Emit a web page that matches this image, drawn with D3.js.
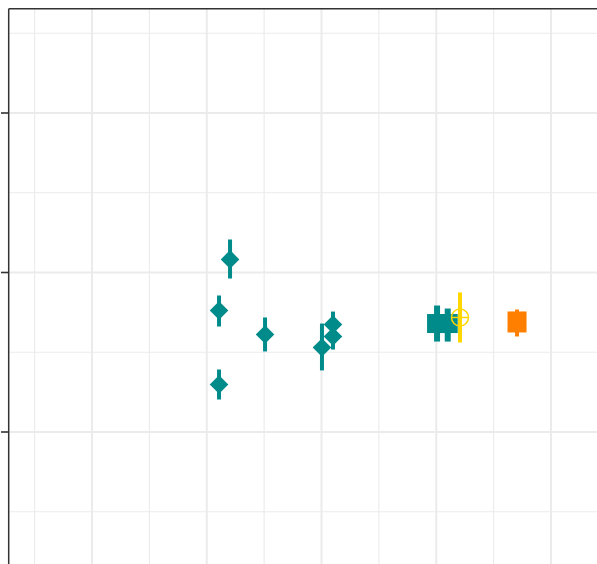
<!DOCTYPE html>
<html><head><meta charset="utf-8">
<script src="https://cdn.jsdelivr.net/npm/d3@7"></script>
<style>html,body{margin:0;padding:0;background:#fff;}svg{display:block;}</style>
</head><body>
<svg id="chart" width="597" height="564"></svg>
<script>
// Estimation data (arbitrary units)
const diamondX   = [2.203, 2.107, 2.107, 2.508, 3.004, 3.100, 3.100];
const diamondY   = [2.082, 1.762, 1.298, 1.611, 1.530, 1.674, 1.599];
const diamondLo  = [1.962, 1.661, 1.204, 1.505, 1.386, 1.586, 1.517];
const diamondHi  = [2.207, 1.856, 1.392, 1.718, 1.680, 1.755, 1.687];

const squareX    = [4.007, 4.100];
const squareY    = [1.680, 1.680];
const squareLo   = [1.567, 1.567];
const squareHi   = [1.793, 1.774];

const pooledX    = [4.207];
const pooledY    = [1.718];
const pooledLo   = [1.561];
const pooledHi   = [1.875];

const otherX     = [4.704];
const otherY     = [1.693];
const otherLo    = [1.599];
const otherHi    = [1.768];

const xMajor = [1, 2, 3, 4, 5];
const xMinor = [0.5, 1.5, 2.5, 3.5, 4.5];
const yMajor = [1, 2, 3];
const yMinor = [0.5, 1.5, 2.5, 3.5];

const W = 597, H = 564;
const padL = 8.7, padT = 8.7;
const svg = d3.select("#chart");

const x = d3.scaleLinear().domain([1, 5]).range([92, 551]);
const y = d3.scaleLinear().domain([1, 3]).range([432, 113]);

const TEAL = "#008B8B", GOLD = "#FFD700", ORANGE = "#FF7F00";

svg.append("defs").append("clipPath").attr("id","clip")
  .append("rect").attr("x", padL).attr("y", padT).attr("width", W).attr("height", H);

const g = svg.append("g").attr("clip-path","url(#clip)");

// grid
g.append("g").selectAll("line").data(xMinor).join("line")
  .attr("x1", d=>x(d)).attr("x2", d=>x(d)).attr("y1", padT).attr("y2", H)
  .attr("stroke","#EBEBEB").attr("stroke-width",1.1);
g.append("g").selectAll("line").data(yMinor).join("line")
  .attr("y1", d=>y(d)).attr("y2", d=>y(d)).attr("x1", padL).attr("x2", W)
  .attr("stroke","#EBEBEB").attr("stroke-width",1.1);
g.append("g").selectAll("line").data(xMajor).join("line")
  .attr("x1", d=>x(d)).attr("x2", d=>x(d)).attr("y1", padT).attr("y2", H)
  .attr("stroke","#EBEBEB").attr("stroke-width",2);
g.append("g").selectAll("line").data(yMajor).join("line")
  .attr("y1", d=>y(d)).attr("y2", d=>y(d)).attr("x1", padL).attr("x2", W)
  .attr("stroke","#EBEBEB").attr("stroke-width",2);

function errbars(xs, lo, hi, col, w) {
  g.append("g").selectAll("line").data(xs.map((d,i)=>i)).join("line")
    .attr("x1", i=>x(xs[i])).attr("x2", i=>x(xs[i]))
    .attr("y1", i=>y(lo[i])).attr("y2", i=>y(hi[i]))
    .attr("stroke", col).attr("stroke-width", w);
}

// teal diamonds
errbars(diamondX, diamondLo, diamondHi, TEAL, 4);
g.append("g").selectAll("path").data(diamondX.map((d,i)=>i)).join("path")
  .attr("d", i => { const cx=x(diamondX[i]), cy=y(diamondY[i]), r=9.3;
    return `M${cx},${cy-r}L${cx+r},${cy}L${cx},${cy+r}L${cx-r},${cy}Z`; })
  .attr("fill", TEAL);

// teal squares
errbars(squareX, squareLo, squareHi, TEAL, 6);
g.append("g").selectAll("rect").data(squareX.map((d,i)=>i)).join("rect")
  .attr("x", i=>x(squareX[i])-10).attr("y", i=>y(squareY[i])-9.5)
  .attr("width",20).attr("height",19).attr("fill", TEAL);

// orange square
errbars(otherX, otherLo, otherHi, ORANGE, 4);
g.append("g").selectAll("rect").data(otherX.map((d,i)=>i)).join("rect")
  .attr("x", i=>x(otherX[i])-9.5).attr("y", i=>y(otherY[i])-10)
  .attr("width",19).attr("height",21).attr("fill", ORANGE);

// gold pooled: bar + circle-plus
errbars(pooledX, pooledLo, pooledHi, GOLD, 4);
const pg = g.append("g").selectAll("g").data(pooledX.map((d,i)=>i)).join("g")
  .attr("transform", i=>`translate(${x(pooledX[i])},${y(pooledY[i])})`);
pg.append("circle").attr("r",8.5).attr("fill","none").attr("stroke",GOLD).attr("stroke-width",1.5);
pg.append("line").attr("x1",-8.5).attr("x2",8.5).attr("stroke",GOLD).attr("stroke-width",1.5);
pg.append("line").attr("y1",-8.5).attr("y2",8.5).attr("stroke",GOLD).attr("stroke-width",1.5);

// panel border (top and left visible)
svg.append("line").attr("x1",padL).attr("x2",W).attr("y1",padT).attr("y2",padT)
  .attr("stroke","#333").attr("stroke-width",1.5);
svg.append("line").attr("x1",padL).attr("x2",padL).attr("y1",padT).attr("y2",H)
  .attr("stroke","#333").attr("stroke-width",1.5);

// y ticks
svg.append("g").selectAll("line").data(yMajor).join("line")
  .attr("x1",1).attr("x2",padL).attr("y1",d=>y(d)).attr("y2",d=>y(d))
  .attr("stroke","#333").attr("stroke-width",1.6);
</script>
</body></html>
